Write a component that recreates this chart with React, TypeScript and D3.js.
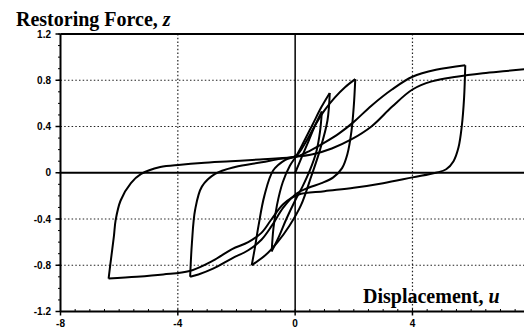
import React from "react";
import * as d3 from "d3";

// Hysteresis loops of restoring force z vs displacement u, branch by branch.
type Pt = [number, number];

const loadA: Pt[] = [[0, 0], [0.2, 0.12], [0.45, 0.27], [0.7, 0.42], [0.91, 0.53]];
const unloadA: Pt[] = [[0.91, 0.53], [0.85, 0.36], [0.72, 0.18], [0.5, 0.02], [0.25, -0.12], [0, -0.24], [-0.3, -0.4], [-0.55, -0.55], [-0.8, -0.68]];
const loadB: Pt[] = [[-0.8, -0.68], [-0.74, -0.48], [-0.62, -0.28], [-0.42, -0.08], [-0.18, 0.06], [0.05, 0.15], [0.3, 0.27], [0.6, 0.42], [0.9, 0.57], [1.18, 0.69]];
const unloadB: Pt[] = [[1.18, 0.69], [1.1, 0.45], [0.85, 0.2], [0.55, -0.03], [0.2, -0.28], [-0.2, -0.46], [-0.6, -0.6], [-1.0, -0.71], [-1.48, -0.8]];
const loadC: Pt[] = [[-1.48, -0.8], [-1.38, -0.66], [-1.25, -0.46], [-1.05, -0.2], [-0.75, 0.02], [-0.35, 0.11], [0.05, 0.15], [0.35, 0.26], [0.7, 0.42], [1.0, 0.54], [1.35, 0.65], [1.7, 0.74], [2.05, 0.81]];
const unloadC: Pt[] = [[2.05, 0.81], [2.0, 0.58], [1.92, 0.36], [1.78, 0.16], [1.6, 0.04], [1.3, -0.04], [0.9, -0.09], [0.45, -0.13], [0.05, -0.18], [-0.4, -0.3], [-0.8, -0.46], [-1.15, -0.58], [-1.6, -0.67], [-2.15, -0.74], [-2.8, -0.83], [-3.3, -0.88], [-3.58, -0.9]];
const loadD: Pt[] = [[-3.58, -0.9], [-3.52, -0.61], [-3.41, -0.32], [-3.18, -0.12], [-2.73, -0.01], [-2.05, 0.05], [-1.14, 0.09], [-0.5, 0.12], [0.05, 0.14], [0.5, 0.19], [1.0, 0.26], [1.5, 0.34], [2.0, 0.44], [2.6, 0.58], [3.3, 0.72], [4.0, 0.83], [4.8, 0.89], [5.8, 0.93]];
const unloadD: Pt[] = [[5.8, 0.93], [5.76, 0.65], [5.68, 0.4], [5.57, 0.22], [5.4, 0.1], [5.15, 0.03], [4.8, 0.0], [4.0, -0.04], [3.0, -0.09], [2.0, -0.13], [1.0, -0.16], [0.1, -0.19], [-0.4, -0.27], [-0.8, -0.4], [-1.15, -0.52], [-1.6, -0.6], [-2.15, -0.66], [-2.8, -0.76], [-3.6, -0.85], [-4.5, -0.88], [-5.4, -0.9], [-6.36, -0.915]];
const loadE: Pt[] = [[-6.36, -0.915], [-6.3, -0.79], [-6.18, -0.55], [-6.12, -0.41], [-5.95, -0.24], [-5.6, -0.09], [-5.25, -0.01], [-4.6, 0.05], [-3.9, 0.07], [-3.2, 0.085], [-2.2, 0.1], [-1.2, 0.115], [-0.1, 0.135], [0.6, 0.16], [1.25, 0.21], [1.93, 0.29], [2.6, 0.4], [3.3, 0.57], [4.0, 0.72], [4.66, 0.79], [5.5, 0.83], [6.4, 0.86], [7.2, 0.88], [8.0, 0.9]];

const branches: Pt[][] = [loadA, unloadA, loadB, unloadB, loadC, unloadC, loadD, unloadD, loadE];

const yTicks = [1.2, 0.8, 0.4, 0, -0.4, -0.8, -1.2];
const yTickLabels = ["1.2", "0.8", "0.4", "0", "-0.4", "-0.8", "-1.2"];
const xTicks = [-8, -4, 0, 4];
const xTickLabels = ["-8", "-4", "0", "4"];
const dottedY = [0.8, 0.4, -0.4, -0.8];
const dottedX = [-4, 4];

const W = 524;
const H = 333;

export default function App() {
  const x = d3.scaleLinear().domain([-8, 8]).range([60.5, 529.8]);
  const y = d3.scaleLinear().domain([-1.2, 1.2]).range([311.5, 34]);
  const line = d3
    .line<Pt>()
    .x((d) => x(d[0]))
    .y((d) => y(d[1]))
    .curve(d3.curveCatmullRom.alpha(0.5));

  const minorY = d3.range(-1.2, 1.2001, 0.1);
  const minorX = d3.range(-8, 8.001, 0.5);
  const x0 = x(-8);
  const x1 = W;
  const yTop = y(1.2);
  const yBot = y(-1.2);

  return (
    <svg width={W} height={H} style={{ position: "absolute", left: 0, top: 0, background: "#fff" }}>
      {/* dotted grid */}
      {dottedY.map((v) => (
        <line key={"gy" + v} x1={x0} x2={x1} y1={y(v)} y2={y(v)} stroke="#222" strokeWidth={1.2} strokeDasharray="1.5,2.2" />
      ))}
      {dottedX.map((v) => (
        <line key={"gx" + v} x1={x(v)} x2={x(v)} y1={yTop} y2={yBot} stroke="#222" strokeWidth={1.2} strokeDasharray="1.5,2.2" />
      ))}
      {/* zero lines */}
      <line x1={x0} x2={x1} y1={y(0)} y2={y(0)} stroke="#000" strokeWidth={2.2} />
      <line x1={x(0)} x2={x(0)} y1={yTop} y2={yBot} stroke="#000" strokeWidth={1.5} />

      {/* frame */}
      <line x1={x0} x2={x1} y1={yTop} y2={yTop} stroke="#000" strokeWidth={2} />
      <line x1={x0} x2={x1} y1={yBot} y2={yBot} stroke="#000" strokeWidth={2} />
      <line x1={x0} x2={x0} y1={yTop} y2={yBot} stroke="#000" strokeWidth={2} />

      {/* minor ticks */}
      {minorY.map((v, i) => (
        <line key={"my" + i} x1={x0 - 2.5} x2={x0} y1={y(v)} y2={y(v)} stroke="#000" strokeWidth={1} />
      ))}
      {minorX.map((v, i) => (
        <line key={"mx" + i} x1={x(v)} x2={x(v)} y1={yBot} y2={yBot - 2.5} stroke="#000" strokeWidth={1} />
      ))}
      {/* major ticks */}
      {yTicks.map((v) => (
        <line key={"ty" + v} x1={x0 - 5} x2={x0} y1={y(v)} y2={y(v)} stroke="#000" strokeWidth={1.5} />
      ))}
      {xTicks.map((v) => (
        <line key={"tx" + v} x1={x(v)} x2={x(v)} y1={yBot} y2={yBot + 4} stroke="#000" strokeWidth={1.5} />
      ))}

      {/* tick labels */}
      {yTicks.map((v, i) => (
        <text key={"ly" + v} x={51} y={y(v)} dy="0.35em" textAnchor="end" fontFamily="Liberation Sans, Arial, sans-serif" fontWeight="bold" fontSize={10}>
          {yTickLabels[i]}
        </text>
      ))}
      {xTicks.map((v, i) => (
        <text key={"lx" + v} x={x(v)} y={327} textAnchor="middle" fontFamily="Liberation Sans, Arial, sans-serif" fontWeight="bold" fontSize={10}>
          {xTickLabels[i]}
        </text>
      ))}

      {/* loops */}
      {branches.map((b, i) => (
        <path key={"b" + i} d={line(b) ?? ""} fill="none" stroke="#000" strokeWidth={2} strokeLinejoin="round" />
      ))}

      {/* titles */}
      <text x={16} y={26} fontFamily="Liberation Serif, Times New Roman, serif" fontWeight="bold" fontSize={20}>
        Restoring Force, <tspan fontStyle="italic">z</tspan>
      </text>
      <text x={363} y={303} fontFamily="Liberation Serif, Times New Roman, serif" fontWeight="bold" fontSize={20}>
        Displacement, <tspan fontStyle="italic">u</tspan>
      </text>
    </svg>
  );
}
